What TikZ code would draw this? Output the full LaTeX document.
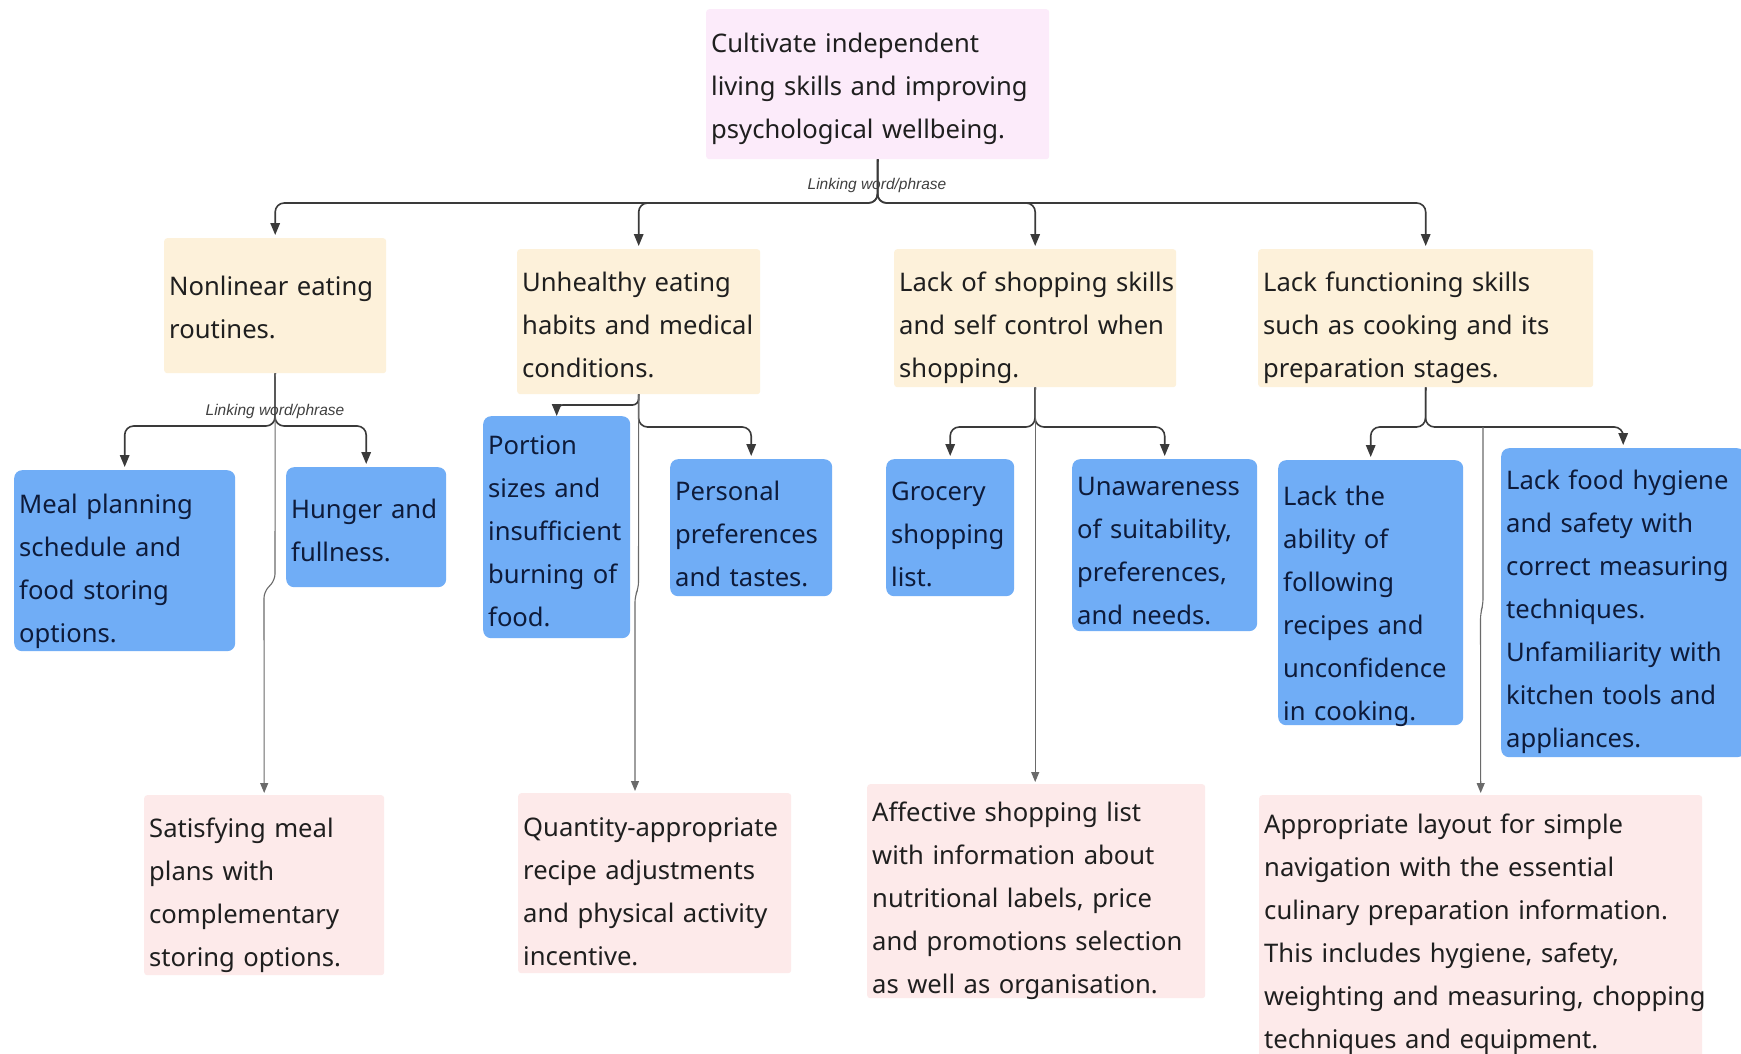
\documentclass[tikz,border=0pt]{standalone}
\usepackage{fontspec}
\setmainfont{Noto Sans}
\newfontfamily\linkfont{Liberation Sans}
\usetikzlibrary{arrows.meta,calc}

\definecolor{rootfill}{HTML}{FCEBFA}
\definecolor{topicfill}{HTML}{FDF1DA}
\definecolor{issuefill}{HTML}{70ADF6}
\definecolor{ideafill}{HTML}{FDEAEA}
\definecolor{inkdark}{HTML}{1F1F1F}
\definecolor{inknavy}{HTML}{0E1B3A}
\definecolor{wire}{HTML}{3A3A3A}
\definecolor{wirelight}{HTML}{6A6A6A}

\begin{document}
\begin{tikzpicture}[x=1pt,y=-1pt,
  % box from its top-left corner: x, y, width, text width, first baseline, rest of height
  place/.style n args={6}{anchor=north west, at={(#1,#2)}, minimum width=#3pt,
    text width=#4pt, text height=#5pt, text depth=#6pt},
  card/.style={rectangle, inner xsep=5pt, inner ysep=0pt, align=left,
    font=\fontsize{25.6}{43}\selectfont, text=inkdark,
    execute at begin node={\rightskip=0pt plus 1fil minus 60pt\relax}},
  rootcard/.style={card, fill=rootfill, rounded corners=3pt},
  topic/.style={card, fill=topicfill, rounded corners=3pt},
  issue/.style={card, fill=issuefill, rounded corners=8pt, text=inknavy},
  idea/.style={card, fill=ideafill, rounded corners=3pt},
  link/.style={draw=wire, line width=1.6pt, rounded corners=9pt,
    -{Triangle[length=12pt,width=9.5pt]}, shorten >=3pt},
  longlink/.style={draw=wirelight, line width=1.1pt, rounded corners=6pt,
    -{Triangle[length=10pt,width=8pt]}, shorten >=2pt},
  linklabel/.style={font=\linkfont\itshape\fontsize{15.5}{17}\selectfont,
    text=black!75, inner sep=0pt}
]
\useasboundingbox (0,0) rectangle (1741,1054);
\fill[white] (0,0) rectangle (1741,1054);

% ---- goal ----
\node[rootcard, place={706}{9}{343}{333}{43}{107}] (root)
  {Cultivate independent\\living skills and improving\\psychological wellbeing.};

% ---- problem areas ----
\node[topic, place={164}{238}{222}{212}{57}{78}] (nonlin)
  {Nonlinear eating\\routines.};
\node[topic, place={517}{249}{243}{233}{42}{103}] (unh)
  {Unhealthy eating\\habits and medical\\conditions.};
\node[topic, place={894}{249}{282}{272}{42}{96}] (shop)
  {Lack of shopping skills\\and self control when\\shopping.};
\node[topic, place={1258}{249}{335}{325}{42}{96}] (func)
  {Lack functioning skills\\such as cooking and its\\preparation stages.};

% ---- causes ----
\node[issue, place={14}{470}{221}{211}{43}{138}] (meal)
  {Meal planning\\schedule and\\food storing\\options.};
\node[issue, place={286}{467}{160}{150}{51}{69}] (hunger)
  {Hunger and\\fullness.};
\node[issue, place={483}{416}{147}{137}{38}{184}] (portion)
  {Portion\\sizes and\\insufficient\\burning of\\food.};
\node[issue, place={670}{459}{162}{152}{41}{96}] (pers)
  {Personal\\preferences\\and tastes.};
\node[issue, place={886}{459}{128}{118}{41}{96}] (groc)
  {Grocery\\shopping\\list.};
\node[issue, place={1072}{459}{185}{175}{36}{136}] (unaw)
  {Unawareness\\of suitability,\\preferences,\\and needs.};
\node[issue, place={1278}{460}{185}{175}{45}{220}] (ability)
  {Lack the\\ability of\\following\\recipes and\\unconfidence\\in cooking.};
\node[issue, place={1501}{448}{244}{234}{41}{268}] (hyg)
  {Lack food hygiene\\and safety with\\correct measuring\\techniques.\\Unfamiliarity with\\kitchen tools and\\appliances.};

% ---- design responses ----
\node[idea, place={144}{795}{240}{230}{42}{138}] (satis)
  {Satisfying meal\\plans with\\complementary\\storing options.};
\node[idea, place={518}{793}{273}{263}{43}{137}] (quant)
  {Quantity-appropriate\\recipe adjustments\\and physical activity\\incentive.};
\node[idea, place={867}{784}{338}{328}{37}{177}] (affect)
  {Affective shopping list\\with information about\\nutritional labels, price\\and promotions selection\\as well as organisation.};
\node[idea, place={1259}{795}{443}{433}{38}{237}] (appr)
  {Appropriate layout for simple\\navigation with the essential\\culinary preparation information.\\This includes hygiene, safety,\\weighting and measuring, chopping\\techniques and equipment.};

% ---- junction points ----
\coordinate (rootbar) at (877.5,203);
\coordinate (nbar) at (275,426);
\coordinate (ubar1) at (638.5,405);
\coordinate (ubar2) at (638.5,427);
\coordinate (sbar) at (1035,427);
\coordinate (fbar) at (1425.5,427);
\coordinate (fsplit) at (1483,427);
\coordinate (qx) at (635,0);

% ---- goal to problem areas ----
\draw[link] (root.south) -- (rootbar) -| (nonlin.north);
\draw[link] (root.south) -- (rootbar) -| (unh.north);
\draw[link] (root.south) -- (rootbar) -| (shop.north);
\draw[link] (root.south) -- (rootbar) -| (func.north);

% ---- problem areas to causes ----
\draw[link] (nonlin.south) -- (nbar) -| (meal.north);
\draw[link] (nonlin.south) -- (nbar) -| (hunger.north);
\draw[link, rounded corners=6pt, shorten >=0pt] (unh.south) -- (ubar1) -| (portion.north);
\draw[link] (unh.south) -- (ubar2) -| (pers.north);
\draw[link] (shop.south) -- (sbar) -| (groc.north);
\draw[link] (shop.south) -- (sbar) -| (unaw.north);
\draw[link] (func.south) -- (fbar) -| (ability.north);
\draw[link] (func.south) -- (fbar) -| (hyg.north);

% ---- problem areas to design responses ----
\draw[longlink] (nonlin.south) -- (275,580) -- (264,592) -- (satis.north);
\draw[longlink] (unh.south) -- (638.5,588) -- (635,596) -- (qx |- quant.north);
\draw[longlink] (shop.south) -- (shop.south |- affect.north);
\draw[longlink] (fsplit) -- (1483,605) -- (1480.5,613) -- (appr.north);

% ---- connector labels ----
\node[linklabel] (lk1) at (877,185) {Linking word/phrase};
\node[linklabel] (lk2) at (275,411) {Linking word/phrase};
\end{tikzpicture}
\end{document}
